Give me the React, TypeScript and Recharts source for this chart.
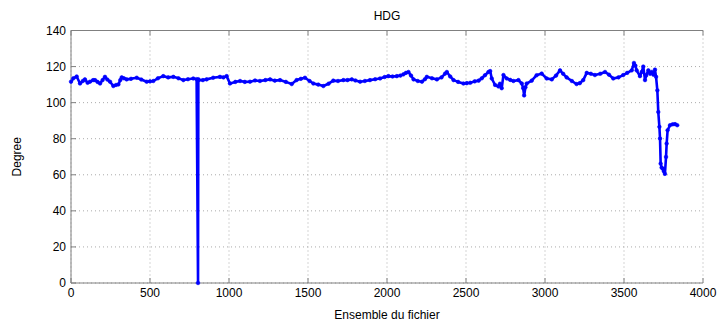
import { LineChart, Line, XAxis, YAxis, CartesianGrid, Label } from 'recharts'

// sample index along the file
const sampleIndex = [
	0, 15, 36, 57, 75, 88, 105, 120, 140, 152, 168, 184, 200, 215, 230, 247, 268, 285, 300, 312,
	321, 335, 352, 380, 416, 445, 479, 500, 521, 550, 584, 615, 648, 680, 711, 740, 774, 795, 804, 806,
	808, 835, 858, 900, 943, 965, 985, 1006, 1040, 1070, 1100, 1133, 1165, 1196, 1230, 1260, 1290, 1323, 1360, 1397, 1428,
	1455, 1481, 1510, 1534, 1565, 1597, 1630, 1660, 1690, 1724, 1750, 1777, 1800, 1830, 1860, 1892, 1925, 1956, 1985, 2009,
	2035, 2062, 2085, 2104, 2120, 2136, 2152, 2168, 2195, 2221, 2240, 2252, 2285, 2316, 2345, 2368, 2379, 2400, 2421, 2450,
	2484, 2505, 2527, 2555, 2580, 2600, 2620, 2642, 2653, 2663, 2684, 2705, 2715, 2726, 2737, 2758, 2780, 2800, 2832, 2853,
	2862, 2868, 2876, 2884, 2916, 2947, 2979, 3011, 3043, 3070, 3095, 3115, 3137, 3170, 3200, 3220, 3242, 3264, 3290, 3316,
	3350, 3380, 3405, 3432, 3465, 3495, 3520, 3549, 3563, 3572, 3580, 3601, 3612, 3622, 3633, 3640, 3654, 3665, 3675, 3686,
	3696, 3703, 3711, 3717, 3724, 3728, 3732, 3738, 3745, 3752, 3759, 3766, 3770, 3776, 3791, 3808, 3823, 3837
]

// heading in degrees
const headingDeg = [
	111.6, 113.5, 114.5, 110.6, 112, 112.9, 111, 111.6, 112.5, 112.5, 111.5, 110.6, 112.5, 114.3, 112.8, 111.6, 109.2, 109.8, 110.1, 112.5,
	114, 113.5, 112.9, 113.2, 113.8, 112.8, 111.6, 111.8, 112, 113.5, 114.7, 114, 114.3, 113.5, 112.5, 113, 113.4, 113, 0, 113,
	112.5, 112.5, 112.9, 113.8, 114.3, 114, 114.7, 110.6, 111.5, 112, 111.5, 111.6, 112.3, 112, 112.5, 112.9, 112.2, 112.5, 111.5, 110.3, 112.5,
	113.2, 113.8, 112, 110.6, 110, 109.2, 110.5, 112.2, 112, 112.5, 112.5, 112.9, 112.3, 111.6, 112, 112.5, 113, 113.4, 114.2, 114.7,
	114.5, 114.7, 115, 115.7, 116.5, 117, 115, 112.9, 112, 111.6, 113, 114.3, 113.5, 112.9, 114, 116.1, 117, 114.5, 112.5, 111.5,
	110.6, 110.8, 111, 111.8, 112.2, 113.5, 115.2, 117, 117.5, 113.4, 109.8, 109, 110.5, 108, 115.3, 113.4, 112.6, 112, 112.5, 110.6,
	108, 104, 108.5, 110.6, 112.2, 115.2, 116.1, 113.4, 112.9, 115, 117.9, 116, 114, 112, 110.3, 110.8, 112.5, 116.5, 116, 115.3,
	116, 117, 115.5, 113.4, 114, 115.3, 116.5, 117.9, 122, 120.5, 117.9, 114.7, 117, 120, 112.5, 115, 117.9, 116, 117, 115.5,
	118.3, 114.3, 106.8, 94.8, 86.6, 80.1, 66.2, 64, 63.4, 62, 60.5, 69.9, 77.3, 84.7, 87.5, 88, 88.1, 87.5
]

const xTicks = [0, 500, 1000, 1500, 2000, 2500, 3000, 3500, 4000]
const yTicks = [0, 20, 40, 60, 80, 100, 120, 140]

const data = sampleIndex.map((x, i) => ({ x, hdg: headingDeg[i] }))

const font = { fontFamily: 'Liberation Sans, Arial, sans-serif', fontSize: 12, fill: '#000' }
const blank = () => ''

export default function App() {
	return (
		<div style={{ position: 'absolute', left: 0, top: 0, background: '#fff' }}>
			<LineChart
				width={718}
				height={325}
				data={data}
				margin={{ top: 0, right: 15, bottom: 0, left: 0 }}
			>
				<CartesianGrid stroke='#aaa' strokeDasharray='1 3' />
				<XAxis
					dataKey='x'
					type='number'
					domain={[0, 4000]}
					ticks={xTicks}
					height={42}
					stroke='#808080'
					tickSize={-5}
					tickMargin={10}
					tick={font}
				>
					<Label value='Ensemble du fichier' position='insideBottom' offset={6} style={font} />
				</XAxis>
				<XAxis
					xAxisId='top'
					orientation='top'
					dataKey='x'
					type='number'
					domain={[0, 4000]}
					ticks={xTicks}
					height={30.5}
					stroke='#808080'
					tickSize={-5}
					tickFormatter={blank}
				>
					<Label value='HDG' position='center' style={font} />
				</XAxis>
				<YAxis
					type='number'
					domain={[0, 140]}
					ticks={yTicks}
					width={71}
					stroke='#808080'
					tickSize={-5}
					tickMargin={10}
					tick={font}
				>
					<Label
						value='Degree'
						angle={-90}
						position='insideLeft'
						offset={17}
						style={{ ...font, textAnchor: 'middle' }}
					/>
				</YAxis>
				<YAxis
					yAxisId='right'
					orientation='right'
					type='number'
					domain={[0, 140]}
					ticks={yTicks}
					width={0}
					stroke='#808080'
					tickSize={-5}
					tickFormatter={blank}
				/>
				<Line
					dataKey='hdg'
					type='linear'
					stroke='#0000ff'
					strokeWidth={2.6}
					strokeLinejoin='round'
					dot={{ r: 1.8, fill: '#0000ff', stroke: '#0000ff', strokeWidth: 0.6 }}
					isAnimationActive={false}
				/>
			</LineChart>
		</div>
	)
}
